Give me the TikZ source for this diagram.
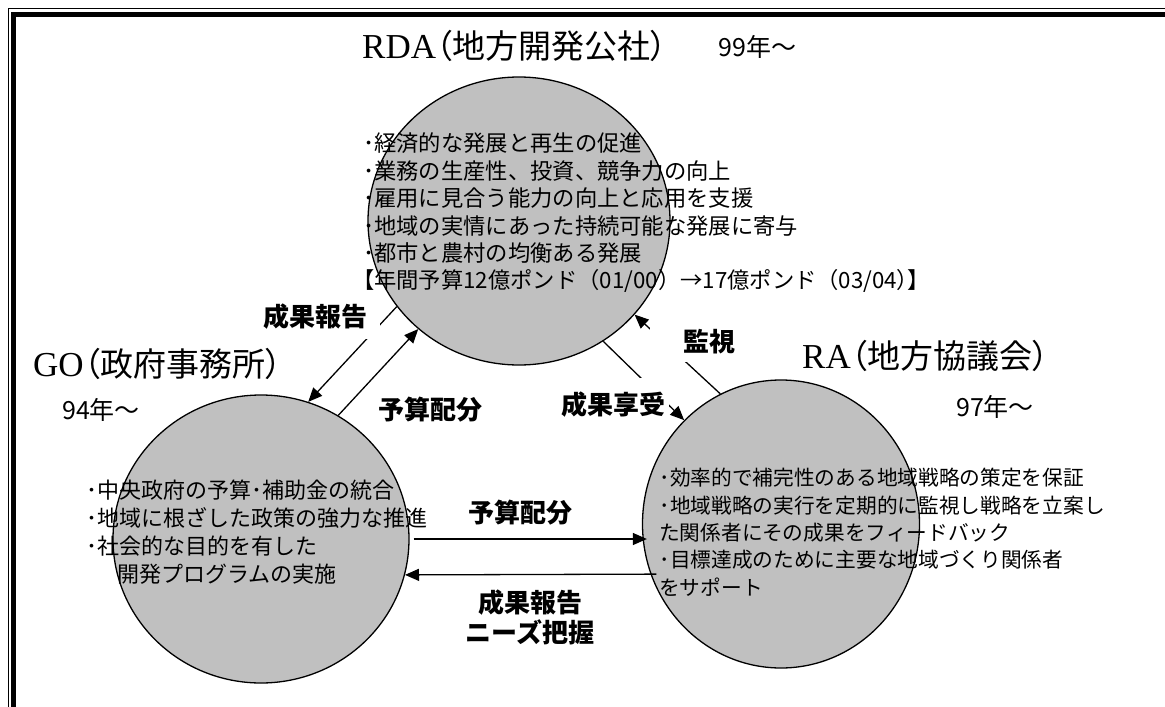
\documentclass[tikz,border=0pt]{standalone}
\usepackage{fontspec}
\usetikzlibrary{shapes.geometric,arrows.meta}
\newfontfamily\jp{Noto Sans CJK JP}
\newfontfamily\jpp[RawFeature=+palt]{Noto Sans CJK JP}
\newfontfamily\tms{Liberation Serif}
\definecolor{circgray}{RGB}{192,192,192}
\tikzset{
  circ/.style={ellipse, draw, line width=1.3pt, fill=circgray, inner sep=0pt},
  arr/.style={line width=1.3pt, -{Triangle[length=14pt,width=12pt]}},
  body/.style={font=\jp\fontsize{22.3}{27}\selectfont, anchor=west, inner sep=0pt},
  gobody/.style={body, font=\jp\fontsize{22}{27}\selectfont},
  rabody/.style={body, font=\jp\fontsize{20.7}{27}\selectfont},
  lab/.style={font=\jp\bfseries\fontsize{26}{30}\selectfont, inner sep=0pt},
  ttl/.style={anchor=base west, inner sep=0pt},
  yr/.style={font=\jpp\fontsize{25}{30}\selectfont, inner sep=0pt},
}
\newcommand{\latn}{\tms\fontsize{35}{40}\selectfont}
\newcommand{\cjkt}{\jpp\fontsize{33}{40}\selectfont}
\newcommand{\pb}[1]{{\jpp #1}}
\begin{document}
\begin{tikzpicture}[x=1pt,y=-1pt]
\useasboundingbox (0,0) rectangle (1165,707);
% frame (top and left only)
\draw[line width=1.2pt] (1165,8.5) -- (8.5,8.5) -- (8.5,707);
\draw[line width=5pt] (1165,14) -- (13.5,14) -- (13.5,707);
% circles
\node[circ, minimum width=302pt, minimum height=288pt] (rda) at (519,221) {};
\node[circ, minimum width=296pt, minimum height=288pt] (go) at (261,539) {};
\node[circ, minimum width=277pt, minimum height=288pt] (ra) at (781,524) {};
% connectors
\draw[arr] (rda.215.7) -- (go.71.4);
\draw[arr] (go.58.9) -- (rda.227.8);
\draw[arr] (rda.305.2) -- (ra.133.3);
\draw[arr] (ra.115.8) -- (rda.321);
\draw[arr] ([xshift=4pt]go.east) -- ([xshift=5pt]ra.west |- go.east);
\draw[arr] ([xshift=6pt]ra.201.9) -- (go.-14.7);
% connector labels
\node[lab, fill=white, inner xsep=12pt, inner ysep=9pt] (l1) at (315.5,317) {成果報告};
\node[lab] (l2) at (430.5,410) {予算配分};
\node[lab, fill=white, inner xsep=3pt, inner ysep=14pt] (l3) at (613.5,405) {成果享受};
\node[lab, fill=white, inner xsep=33pt, inner ysep=8pt] (l4) at (709,342) {監視};
\node[lab] (l5) at (520.5,513) {予算配分};
\node[lab, align=center] (l6) at (530,617) {成果報告\\ニーズ把握};
% titles
\node[ttl] (trda) at (362,58) {{\latn RDA}{\cjkt （地方開発公社）}};
\node[yr] (yrda) at (757.5,47) {99年～};
\node[ttl] (tgo) at (33,376) {{\latn GO}{\cjkt （政府事務所）}};
\node[yr] (ygo) at (101,410) {94年～};
\node[ttl] (tra) at (802,368) {{\latn RA}{\cjkt （地方協議会）}};
\node[yr] (yra) at (995,407) {97年～};
% RDA body
\node[body] (r1) at (363,143) {･経済的な発展と再生の促進};
\node[body] (r2) at (363,170.6) {･業務の生産性、投資、競争力の向上};
\node[body] (r3) at (363,198.2) {･雇用に見合う能力の向上と応用を支援};
\node[body] (r4) at (363,225.8) {･地域の実情にあった持続可能な発展に寄与};
\node[body] (r5) at (363,253.4) {･都市と農村の均衡ある発展};
\node[body] (r6) at (363,281) {\pb{【}年間予算12億ポンド（01/00）→17億ポンド（03/04\pb{）】}};
% GO body
\node[gobody] (g1) at (86,490) {･中央政府の予算･補助金の統合};
\node[gobody] (g2) at (86,518) {･地域に根ざした政策の強力な推進};
\node[gobody] (g3) at (86,546) {･社会的な目的を有した};
\node[gobody] (g4) at (117,574) {開発プログラムの実施};
% RA body
\node[rabody] (a1) at (659.5,478) {･効率的で補完性のある地域戦略の策定を保証};
\node[rabody] (a2) at (659.5,505.2) {･地域戦略の実行を定期的に監視し戦略を立案し};
\node[rabody] (a3) at (659,532.4) {た関係者にその成果をフィードバック};
\node[rabody] (a4) at (659.5,559.6) {･目標達成のために主要な地域づくり関係者};
\node[rabody] (a5) at (659,586.8) {をサポート};
\end{tikzpicture}
\end{document}
